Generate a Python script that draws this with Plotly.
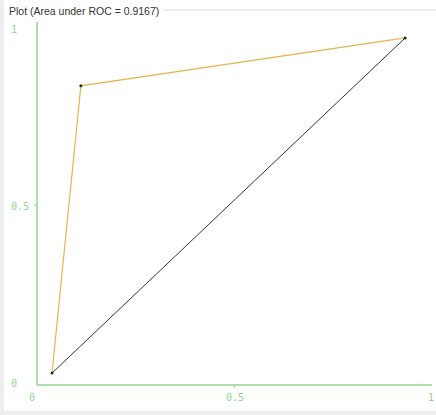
import plotly.graph_objects as go

# ROC curve points (false positive rate, true positive rate)
fpr = [0.038, 0.111, 0.932]
tpr = [0.033, 0.831, 0.964]
# diagonal reference segment (black)
diag_x = [0.038, 0.932]
diag_y = [0.033, 0.964]

x_tick_vals = [0, 0.5, 1]
x_tick_text = ["0", "0.5", "1"]
y_tick_vals = [0, 0.5, 1]
y_tick_text = ["0", "0.5", "1"]

title_text = "Plot (Area under ROC = 0.9167)"

W, H = 436, 415
X0, X1 = 37, 432   # pixel x of data 0 and 1
Y0, Y1 = 385, 25   # pixel y of data 0 and 1
ML = X0
MR = W - X1
MT = Y1
MB = H - Y0
PW, PH = X1 - X0, Y0 - Y1


def px(x):
    return (x - X0) / PW


def py(y):
    return (Y0 - y) / PH


green = "#8fd68f"
label_font = dict(family="DejaVu Sans Mono", size=10, color=green)

fig = go.Figure()
fig.add_trace(go.Scatter(x=diag_x, y=diag_y, mode="lines",
                         line=dict(color="#333333", width=1), hoverinfo="skip"))
fig.add_trace(go.Scatter(x=fpr, y=tpr, mode="lines",
                         line=dict(color="#e6b450", width=1.2), hoverinfo="skip"))
fig.add_trace(go.Scatter(x=fpr, y=tpr, mode="markers",
                         marker=dict(color="#222222", size=3), hoverinfo="skip"))

shapes = []
# frame strips (light gray)
shapes.append(dict(type="rect", xref="paper", yref="paper", x0=px(0), x1=px(436),
                   y0=py(415), y1=py(411), fillcolor="#eeeeee", line=dict(width=0), layer="below"))
shapes.append(dict(type="rect", xref="paper", yref="paper", x0=px(0), x1=px(4),
                   y0=py(415), y1=py(0), fillcolor="#eeeeee", line=dict(width=0), layer="below"))
# header line
shapes.append(dict(type="line", xref="paper", yref="paper", x0=px(163), x1=px(436),
                   y0=py(10), y1=py(10), line=dict(color="#dddddd", width=1)))
# axis lines
shapes.append(dict(type="line", xref="paper", yref="paper", x0=0, x1=0,
                   y0=0, y1=py(22), line=dict(color=green, width=1.5)))
shapes.append(dict(type="line", xref="paper", yref="paper", x0=0, x1=1,
                   y0=0, y1=0, line=dict(color=green, width=1.5)))
# ticks at 0.5
shapes.append(dict(type="line", xref="x", yref="paper", x0=0.5, x1=0.5,
                   y0=0, y1=py(388), line=dict(color=green, width=1)))
shapes.append(dict(type="line", xref="paper", yref="y", x0=0, x1=px(34),
                   y0=0.5, y1=0.5, line=dict(color=green, width=1)))

annotations = [dict(text=title_text, xref="paper", yref="paper", x=px(7), y=py(11),
                    xanchor="left", yanchor="middle", showarrow=False,
                    font=dict(family="Liberation Sans", size=10.5, color="#333333"))]
x_label_px = [32, 235, 431]
for t, xp in zip(x_tick_text, x_label_px):
    annotations.append(dict(text=t, xref="paper", yref="paper", x=px(xp), y=py(397),
                            xanchor="center", yanchor="middle", showarrow=False, font=label_font))
y_label_py = [383, 206, 30]
for t, yp in zip(y_tick_text, y_label_py):
    annotations.append(dict(text=t, xref="paper", yref="paper", x=px(9), y=py(yp),
                            xanchor="left", yanchor="middle", showarrow=False, font=label_font))

fig.update_layout(
    width=W, height=H,
    margin=dict(l=ML, r=MR, t=MT, b=MB),
    paper_bgcolor="white", plot_bgcolor="white",
    showlegend=False,
    xaxis=dict(range=[0, 1], showgrid=False, zeroline=False, showline=False,
               showticklabels=False, ticks="", fixedrange=True),
    yaxis=dict(range=[0, 1], showgrid=False, zeroline=False, showline=False,
               showticklabels=False, ticks="", fixedrange=True),
    shapes=shapes, annotations=annotations,
)
fig.write_html("out.html", config={"displayModeBar": False},
               post_script="document.body.style.margin='0';document.body.style.overflow='hidden';")
